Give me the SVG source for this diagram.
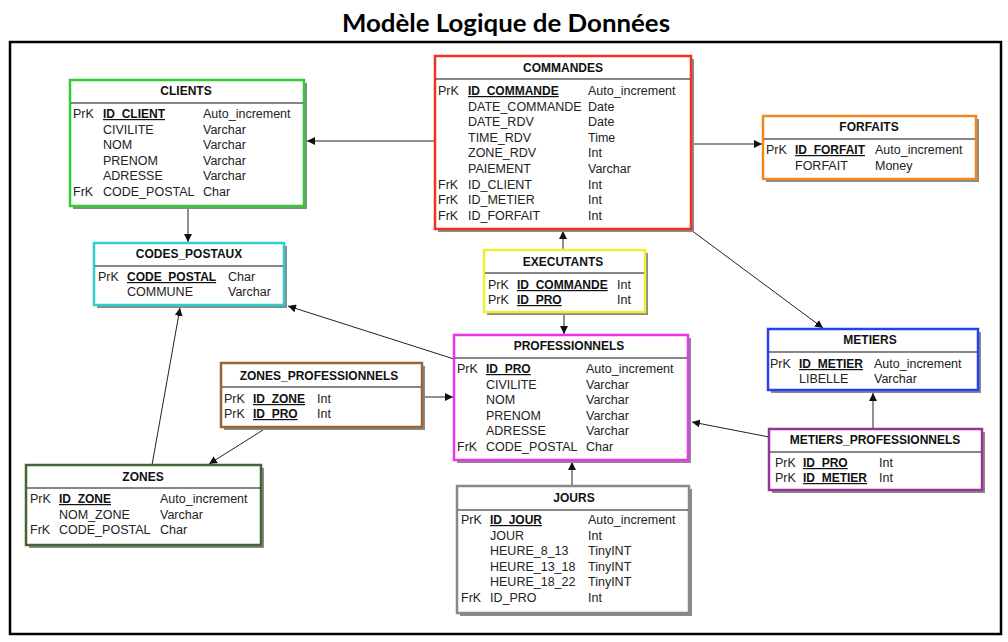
<svg xmlns="http://www.w3.org/2000/svg" width="1008" height="642" viewBox="0 0 1008 642">
<style>
.sh{fill:#8a8a8a}
.bx{fill:#fff;stroke-width:2.5}
.sep{stroke:#111;stroke-width:1.2}
.hd{font-family:"Liberation Sans",Arial,sans-serif;font-size:12px;font-weight:bold;fill:#111;text-anchor:middle}
.t{font-family:"Liberation Sans",Arial,sans-serif;font-size:12.5px;fill:#222}
.pk{font-family:"Liberation Sans",Arial,sans-serif;font-size:12px;font-weight:bold;fill:#111;text-decoration:underline}
.cn{stroke:#222;stroke-width:1;fill:none;marker-end:url(#ah)}
</style>
<defs>
<marker id="ah" viewBox="0 0 8 8" refX="8" refY="4" markerWidth="8" markerHeight="8" markerUnits="userSpaceOnUse" orient="auto">
<path d="M0,0 L8,4 L0,8 z" fill="#111"/>
</marker>
</defs>
<rect width="1008" height="642" fill="#fff"/>
<text x="506" y="32" font-family="Lato,'Open Sans',sans-serif" font-size="24" font-weight="bold" text-anchor="middle" textLength="328" lengthAdjust="spacingAndGlyphs" fill="#000">Modèle Logique de Données</text>
<rect x="10" y="42" width="991" height="592" fill="none" stroke="#000" stroke-width="2.5"/>

<g id="connectors">
<line class="cn" x1="435" y1="141" x2="307" y2="141"/>
<line class="cn" x1="691" y1="144" x2="762" y2="144"/>
<line class="cn" x1="691" y1="230" x2="823" y2="328"/>
<line class="cn" x1="188" y1="207" x2="188" y2="242"/>
<line class="cn" x1="563" y1="250" x2="563" y2="231"/>
<line class="cn" x1="564" y1="313" x2="564" y2="334"/>
<line class="cn" x1="454" y1="359" x2="288" y2="306"/>
<line class="cn" x1="422" y1="397" x2="453" y2="397"/>
<line class="cn" x1="263" y1="430" x2="209" y2="464"/>
<line class="cn" x1="152" y1="465" x2="180" y2="308"/>
<line class="cn" x1="572" y1="486" x2="572" y2="462"/>
<line class="cn" x1="769" y1="437" x2="692" y2="422"/>
<line class="cn" x1="873" y1="429" x2="873" y2="393"/>
</g>

<g id="CLIENTS">
<rect class="sh" x="73" y="83" width="234" height="126"/>
<rect class="bx" x="70" y="80" width="234" height="126" stroke="#33cc33"/>
<line class="sep" x1="71" y1="103" x2="303" y2="103"/>
<text class="hd" x="186" y="95">CLIENTS</text>
<text class="t" x="73" y="118">PrK</text><text class="pk" x="103" y="118">ID_CLIENT</text><text class="t" x="203" y="118">Auto_increment</text>
<text class="t" x="103" y="133.6">CIVILITE</text><text class="t" x="203" y="133.6">Varchar</text>
<text class="t" x="103" y="149.2">NOM</text><text class="t" x="203" y="149.2">Varchar</text>
<text class="t" x="103" y="164.8">PRENOM</text><text class="t" x="203" y="164.8">Varchar</text>
<text class="t" x="103" y="180.4">ADRESSE</text><text class="t" x="203" y="180.4">Varchar</text>
<text class="t" x="73" y="196">FrK</text><text class="t" x="103" y="196">CODE_POSTAL</text><text class="t" x="203" y="196">Char</text>
</g>

<g id="CODES_POSTAUX">
<rect class="sh" x="97" y="246" width="190" height="62"/>
<rect class="bx" x="94" y="243" width="190" height="62" stroke="#33cccc"/>
<line class="sep" x1="95" y1="266" x2="283" y2="266"/>
<text class="hd" x="189" y="258">CODES_POSTAUX</text>
<text class="t" x="98" y="281">PrK</text><text class="pk" x="127" y="281">CODE_POSTAL</text><text class="t" x="228" y="281">Char</text>
<text class="t" x="127" y="296">COMMUNE</text><text class="t" x="228" y="296">Varchar</text>
</g>

<g id="COMMANDES">
<rect class="sh" x="438" y="59" width="256" height="173"/>
<rect class="bx" x="435" y="56" width="256" height="173" stroke="#ee3322"/>
<line class="sep" x1="436" y1="79" x2="690" y2="79"/>
<text class="hd" x="563" y="72">COMMANDES</text>
<text class="t" x="438" y="95">PrK</text><text class="pk" x="468" y="95">ID_COMMANDE</text><text class="t" x="588" y="95">Auto_increment</text>
<text class="t" x="468" y="110.6">DATE_COMMANDE</text><text class="t" x="588" y="110.6">Date</text>
<text class="t" x="468" y="126.2">DATE_RDV</text><text class="t" x="588" y="126.2">Date</text>
<text class="t" x="468" y="141.8">TIME_RDV</text><text class="t" x="588" y="141.8">Time</text>
<text class="t" x="468" y="157.4">ZONE_RDV</text><text class="t" x="588" y="157.4">Int</text>
<text class="t" x="468" y="173">PAIEMENT</text><text class="t" x="588" y="173">Varchar</text>
<text class="t" x="438" y="188.6">FrK</text><text class="t" x="468" y="188.6">ID_CLIENT</text><text class="t" x="588" y="188.6">Int</text>
<text class="t" x="438" y="204.2">FrK</text><text class="t" x="468" y="204.2">ID_METIER</text><text class="t" x="588" y="204.2">Int</text>
<text class="t" x="438" y="219.8">FrK</text><text class="t" x="468" y="219.8">ID_FORFAIT</text><text class="t" x="588" y="219.8">Int</text>
</g>

<g id="FORFAITS">
<rect class="sh" x="766" y="119" width="213" height="63"/>
<rect class="bx" x="763" y="116" width="213" height="63" stroke="#ee8822"/>
<line class="sep" x1="764" y1="139" x2="975" y2="139"/>
<text class="hd" x="869" y="131">FORFAITS</text>
<text class="t" x="766" y="154">PrK</text><text class="pk" x="795" y="154">ID_FORFAIT</text><text class="t" x="875" y="154">Auto_increment</text>
<text class="t" x="795" y="170">FORFAIT</text><text class="t" x="875" y="170">Money</text>
</g>

<g id="METIERS">
<rect class="sh" x="771" y="332" width="210" height="61"/>
<rect class="bx" x="768" y="329" width="210" height="61" stroke="#2244ee"/>
<line class="sep" x1="769" y1="352" x2="977" y2="352"/>
<text class="hd" x="870" y="344">METIERS</text>
<text class="t" x="770" y="368">PrK</text><text class="pk" x="799" y="368">ID_METIER</text><text class="t" x="874" y="368">Auto_increment</text>
<text class="t" x="799" y="383">LIBELLE</text><text class="t" x="874" y="383">Varchar</text>
</g>

<g id="METIERS_PROFESSIONNELS">
<rect class="sh" x="772" y="432" width="213" height="61"/>
<rect class="bx" x="769" y="429" width="213" height="61" stroke="#993399"/>
<line class="sep" x1="770" y1="452" x2="981" y2="452"/>
<text class="hd" x="875" y="444">METIERS_PROFESSIONNELS</text>
<text class="t" x="775" y="467">PrK</text><text class="pk" x="803" y="467">ID_PRO</text><text class="t" x="879" y="467">Int</text>
<text class="t" x="775" y="482">PrK</text><text class="pk" x="803" y="482">ID_METIER</text><text class="t" x="879" y="482">Int</text>
</g>

<g id="EXECUTANTS">
<rect class="sh" x="487" y="253" width="161" height="62"/>
<rect class="bx" x="484" y="250" width="161" height="62" stroke="#eeee33"/>
<line class="sep" x1="485" y1="273" x2="644" y2="273"/>
<text class="hd" x="563" y="266">EXECUTANTS</text>
<text class="t" x="488" y="289">PrK</text><text class="pk" x="517" y="289">ID_COMMANDE</text><text class="t" x="617" y="289">Int</text>
<text class="t" x="488" y="304">PrK</text><text class="pk" x="517" y="304">ID_PRO</text><text class="t" x="617" y="304">Int</text>
</g>

<g id="PROFESSIONNELS">
<rect class="sh" x="457" y="338" width="234" height="125"/>
<rect class="bx" x="454" y="335" width="234" height="125" stroke="#ee33ee"/>
<line class="sep" x1="455" y1="358" x2="687" y2="358"/>
<text class="hd" x="569" y="350">PROFESSIONNELS</text>
<text class="t" x="457" y="373">PrK</text><text class="pk" x="486" y="373">ID_PRO</text><text class="t" x="586" y="373">Auto_increment</text>
<text class="t" x="486" y="388.6">CIVILITE</text><text class="t" x="586" y="388.6">Varchar</text>
<text class="t" x="486" y="404.2">NOM</text><text class="t" x="586" y="404.2">Varchar</text>
<text class="t" x="486" y="419.8">PRENOM</text><text class="t" x="586" y="419.8">Varchar</text>
<text class="t" x="486" y="435.4">ADRESSE</text><text class="t" x="586" y="435.4">Varchar</text>
<text class="t" x="457" y="451">FrK</text><text class="t" x="486" y="451">CODE_POSTAL</text><text class="t" x="586" y="451">Char</text>
</g>

<g id="ZONES_PROFESSIONNELS">
<rect class="sh" x="224" y="366" width="201" height="64"/>
<rect class="bx" x="221" y="363" width="201" height="64" stroke="#996633"/>
<line class="sep" x1="222" y1="387" x2="421" y2="387"/>
<text class="hd" x="319" y="380">ZONES_PROFESSIONNELS</text>
<text class="t" x="224" y="403">PrK</text><text class="pk" x="253" y="403">ID_ZONE</text><text class="t" x="317" y="403">Int</text>
<text class="t" x="224" y="418">PrK</text><text class="pk" x="253" y="418">ID_PRO</text><text class="t" x="317" y="418">Int</text>
</g>

<g id="ZONES">
<rect class="sh" x="29" y="468" width="235" height="80"/>
<rect class="bx" x="26" y="465" width="235" height="80" stroke="#446633"/>
<line class="sep" x1="27" y1="488" x2="260" y2="488"/>
<text class="hd" x="143" y="481">ZONES</text>
<text class="t" x="30" y="503">PrK</text><text class="pk" x="59" y="503">ID_ZONE</text><text class="t" x="160" y="503">Auto_increment</text>
<text class="t" x="59" y="519">NOM_ZONE</text><text class="t" x="160" y="519">Varchar</text>
<text class="t" x="30" y="534">FrK</text><text class="t" x="59" y="534">CODE_POSTAL</text><text class="t" x="160" y="534">Char</text>
</g>

<g id="JOURS">
<rect class="sh" x="460" y="489" width="232" height="127"/>
<rect class="bx" x="457" y="486" width="232" height="127" stroke="#888888"/>
<line class="sep" x1="458" y1="510" x2="688" y2="510"/>
<text class="hd" x="574" y="502">JOURS</text>
<text class="t" x="461" y="524">PrK</text><text class="pk" x="490" y="524">ID_JOUR</text><text class="t" x="588" y="524">Auto_increment</text>
<text class="t" x="490" y="540">JOUR</text><text class="t" x="588" y="540">Int</text>
<text class="t" x="490" y="555">HEURE_8_13</text><text class="t" x="588" y="555">TinyINT</text>
<text class="t" x="490" y="571">HEURE_13_18</text><text class="t" x="588" y="571">TinyINT</text>
<text class="t" x="490" y="586">HEURE_18_22</text><text class="t" x="588" y="586">TinyINT</text>
<text class="t" x="461" y="602">FrK</text><text class="t" x="490" y="602">ID_PRO</text><text class="t" x="588" y="602">Int</text>
</g>
</svg>
